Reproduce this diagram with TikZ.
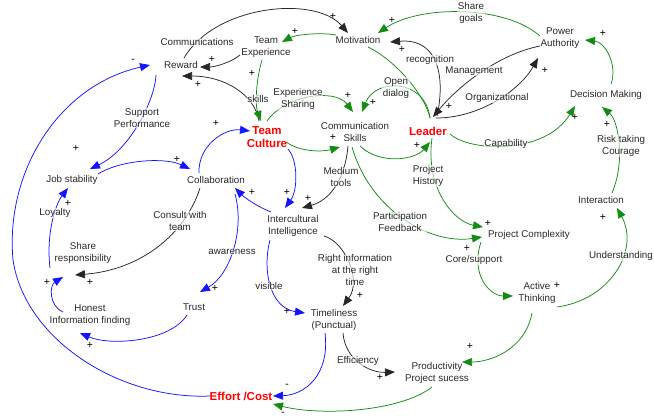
\documentclass[tikz,border=0pt]{standalone}
\usepackage{fontspec}
\setmainfont{Liberation Sans}
\usetikzlibrary{arrows.meta,calc,backgrounds}
\definecolor{cldblue}{RGB}{20,20,255}
\definecolor{cldgreen}{RGB}{20,140,20}
\definecolor{cldtext}{RGB}{40,40,40}
\begin{document}
\begin{tikzpicture}[x=1pt,y=-1pt,
  lab/.style={font=\fontsize{9.8}{12}\selectfont, align=center, text=cldtext, inner sep=0.5pt},
  elab/.style={lab, fill=white, fill opacity=0.6, text opacity=1},
  key/.style={font=\fontsize{11.5}{13}\selectfont\bfseries, align=center, text=red, inner sep=0.5pt},
  pm/.style={font=\fontsize{10.5}{10}\selectfont, inner sep=0pt, text=black},
  lnk/.style={line width=0.75pt, -{Triangle[length=10pt,width=8pt]}},
  blk/.style={lnk, draw=black!85},
  blu/.style={lnk, draw=cldblue},
  grn/.style={lnk, draw=cldgreen}]
\useasboundingbox (0,0) rectangle (654,418);
% nodes
\node[elab] (comm) at (197,42) {Communications};
\node[lab] (reward) at (181,65) {Reward};
\node[lab] (teamexp) at (266,47) {Team\\Experience};
\node[lab] (motiv) at (358,40) {Motivation};
\node[elab] (sharegoals) at (471,13) {Share\\goals};
\node[lab] (power) at (560,38) {Power\\Authority};
\node[elab] (recog) at (430,60) {recognition};
\node[elab] (mgmt) at (474,71) {Management};
\node[elab] (org) at (497,98) {Organizational};
\node[lab] (decision) at (606,95) {Decision Making};
\node[key] (leader) at (428,131) {Leader};
\node[elab] (opendialog) at (396,88) {Open\\dialog};
\node[elab] (expshare) at (298,99) {Experience\\Sharing};
\node[elab] (skillslab) at (258,99) {skills};
\node[key] (culture) at (267,137) {Team\\Culture};
\node[lab] (cskills) at (355,132) {Communication\\Skills};
\node[elab] (capab) at (506,144) {Capability};
\node[elab] (risk) at (621,146) {Risk taking\\Courage};
\node[elab] (support) at (142,118) {Support\\Performance};
\node[lab] (jobstab) at (72,180) {Job stability};
\node[lab] (collab) at (216,180) {Collaboration};
\node[elab] (medium) at (341,177) {Medium\\tools};
\node[elab] (history) at (428,176) {Project\\History};
\node[elab] (loyalty) at (55,213) {Loyalty};
\node[elab] (consult) at (180,221) {Consult with\\team};
\node[lab] (icult) at (293,226) {Intercultural\\Intelligence};
\node[elab] (partic) at (400,222) {Participation\\Feedback};
\node[lab] (interact) at (601,200) {Interaction};
\node[lab] (complex) at (529,235) {Project Complexity};
\node[lab] (shareresp) at (83,253) {Share\\responsibility};
\coordinate (sr) at (63,276);
\node[elab] (aware) at (232,252) {awareness};
\node[elab] (rightinfo) at (355,270) {Right information\\at the right\\time};
\node[elab] (core) at (474,260) {Core/support};
\node[elab] (underst) at (621,256) {Understanding};
\node[elab] (visible) at (269,286) {visible};
\node[lab] (trust) at (194,307) {Trust};
\node[lab] (honest) at (90,315) {Honest\\Information finding};
\node[lab] (active) at (537,293) {Active\\Thinking};
\node[lab] (timely) at (334,320) {Timeliness\\(Punctual)};
\node[elab] (effic) at (358,361) {Efficiency};
\node[lab] (product) at (437,373) {Productivity\\Project sucess};
\node[key] (effort) at (241,396) {Effort /Cost};
% connectors
\begin{scope}[on background layer]
% black
\draw[blk] ($(reward)+(3,-7)$) .. controls (215,5) and (315,-5) .. ($(motiv)+(-10,-7)$);
\draw[blk] ($(teamexp)+(-26,8)$) .. controls (232,62) and (215,67) .. ($(reward)+(19,2)$);
\draw[blk] ($(culture)+(-8,-16)$) .. controls (255,95) and (225,76) .. ($(reward)+(1,11)$);
\draw[blk] ($(collab)+(-16,8)$) .. controls (185,235) and (140,270) .. ($(sr)+(12,-1)$);
\draw[blk] ($(timely)+(9,13)$) .. controls (345,360) and (370,373) .. ($(product)+(-42,-1)$);
\draw[blk] ($(icult)+(31,10)$) .. controls (345,242) and (362,280) .. ($(timely)+(9,-14)$);
\draw[blk] ($(cskills)+(-7,14)$) .. controls (345,180) and (330,200) .. ($(icult)+(9,-18)$);
\draw[blk] ($(power)+(-20,8)$) .. controls (495,55) and (455,90) .. ($(leader)+(5,-14)$);
\draw[blk] ($(leader)+(8,-13)$) .. controls (480,118) and (520,90) .. ($(power)+(-22,20)$);
\draw[blk] ($(leader)+(9,-15)$) .. controls (445,80) and (440,38) .. ($(motiv)+(32,2)$);
% blue
\draw[blu] ($(effort)+(-31,0)$) .. controls (120,400) and (25,340) .. (13,260) .. controls (5,170) and (60,85) .. ($(reward)+(-31,0)$);
\draw[blu] ($(reward)+(-25,10)$) .. controls (155,100) and (130,150) .. ($(jobstab)+(18,-11)$);
\draw[blu] ($(jobstab)+(26,-6)$) .. controls (120,160) and (165,157) .. ($(collab)+(-26,-11)$);
\draw[blu] ($(collab)+(-17,-7)$) .. controls (198,145) and (225,128) .. ($(culture)+(-17,-6)$);
\draw[blu] ($(culture)+(21,12)$) .. controls (298,160) and (298,190) .. ($(icult)+(-8,-18)$);
\draw[blu] ($(icult)+(-22,-14)$) .. controls (258,207) and (245,198) .. ($(collab)+(19,8)$);
\draw[blu] ($(collab)+(19,14)$) .. controls (245,230) and (230,275) .. ($(trust)+(6,-15)$);
\draw[blu] ($(trust)+(-7,8)$) .. controls (170,342) and (110,346) .. ($(honest)+(-10,18)$);
\draw[blu] ($(honest)+(-27,-3)$) .. controls (48,305) and (50,285) .. ($(sr)+(0,1)$);
\draw[blu] ($(sr)+(-13,-8)$) .. controls (46,235) and (55,205) .. ($(jobstab)+(-4,8)$);
\draw[blu] ($(icult)+(-23,14)$) .. controls (262,270) and (270,308) .. ($(timely)+(-29,-7)$);
\draw[blu] ($(timely)+(-9,13)$) .. controls (330,375) and (305,395) .. ($(effort)+(32,0)$);
% green
\draw[cldgreen, line width=0.75pt] ($(motiv)+(10,7)$) .. controls (395,60) and (425,95) .. ($(leader)+(2,-13)$);
\draw[grn] ($(power)+(-20,-2)$) .. controls (505,5) and (420,5) .. ($(motiv)+(20,-7)$);
\draw[grn] ($(motiv)+(-22,-5)$) .. controls (320,32) and (295,35) .. ($(teamexp)+(16,-5)$);
\draw[grn] ($(teamexp)+(-4,13)$) .. controls (256,80) and (255,105) .. ($(culture)+(-6,-16)$);
\draw[grn] ($(culture)+(0,-16)$) .. controls (285,95) and (335,88) .. ($(cskills)+(-2,-20)$);
\draw[grn] ($(leader)+(2,-13)$) .. controls (425,78) and (375,78) .. ($(cskills)+(7,-20)$);
\draw[grn] ($(culture)+(19,5)$) .. controls (300,152) and (322,152) .. ($(cskills)+(-15,15)$);
\draw[grn] ($(cskills)+(5,14)$) .. controls (380,165) and (415,160) .. ($(leader)+(2,11)$);
\draw[grn] ($(leader)+(22,3)$) .. controls (470,152) and (545,155) .. ($(decision)+(-31,11)$);
\draw[grn] ($(decision)+(5,-11)$) .. controls (618,65) and (605,42) .. ($(power)+(25,2)$);
\draw[grn] ($(interact)+(11,-7)$) .. controls (626,160) and (618,120) .. ($(decision)+(-4,12)$);
\draw[grn] ($(active)+(20,14)$) .. controls (610,300) and (640,250) .. ($(interact)+(16,8)$);
\draw[grn] ($(complex)+(-48,7)$) .. controls (470,275) and (490,296) .. ($(active)+(-24,3)$);
\draw[grn] ($(cskills)+(-3,15)$) .. controls (370,210) and (430,245) .. ($(complex)+(-47,2)$);
\draw[grn] ($(leader)+(4,7)$) .. controls (425,190) and (455,222) .. ($(complex)+(-46,-8)$);
\draw[grn] ($(active)+(-5,20)$) .. controls (525,350) and (490,362) .. ($(product)+(25,-11)$);
\draw[grn] ($(product)+(-5,14)$) .. controls (400,412) and (320,416) .. ($(effort)+(32,8)$);
\end{scope}
% polarity signs
\foreach \p/\s in {{(333,16)}/+, {(212,59)}/+, {(198,84)}/+, {(133,61)}/-, {(76,148)}/+, {(177,159)}/+, {(216,123)}/+, {(287,192)}/+, {(252,192)}/+, {(215,288)}/+, {(90,345)}/+, {(47,282)}/+, {(68,203)}/+, {(90,282)}/+, {(287,311)}/+, {(287,386)}/-, {(380,377)}/+, {(360,295)}/+, {(308,198)}/+, {(449,106)}/+, {(545,70)}/+, {(402,49)}/+, {(392,20)}/+, {(295,31)}/+, {(252,73)}/+, {(348,95)}/+, {(373,102)}/+, {(333,137)}/+, {(417,145)}/+, {(575,117)}/+, {(603,33)}/+, {(607,124)}/+, {(603,217)}/+, {(557,285)}/+, {(467,248)}/+, {(488,223)}/+, {(470,346)}/+, {(283,414)}/-}
  \node[pm] at \p {\s};
\end{tikzpicture}
\end{document}
